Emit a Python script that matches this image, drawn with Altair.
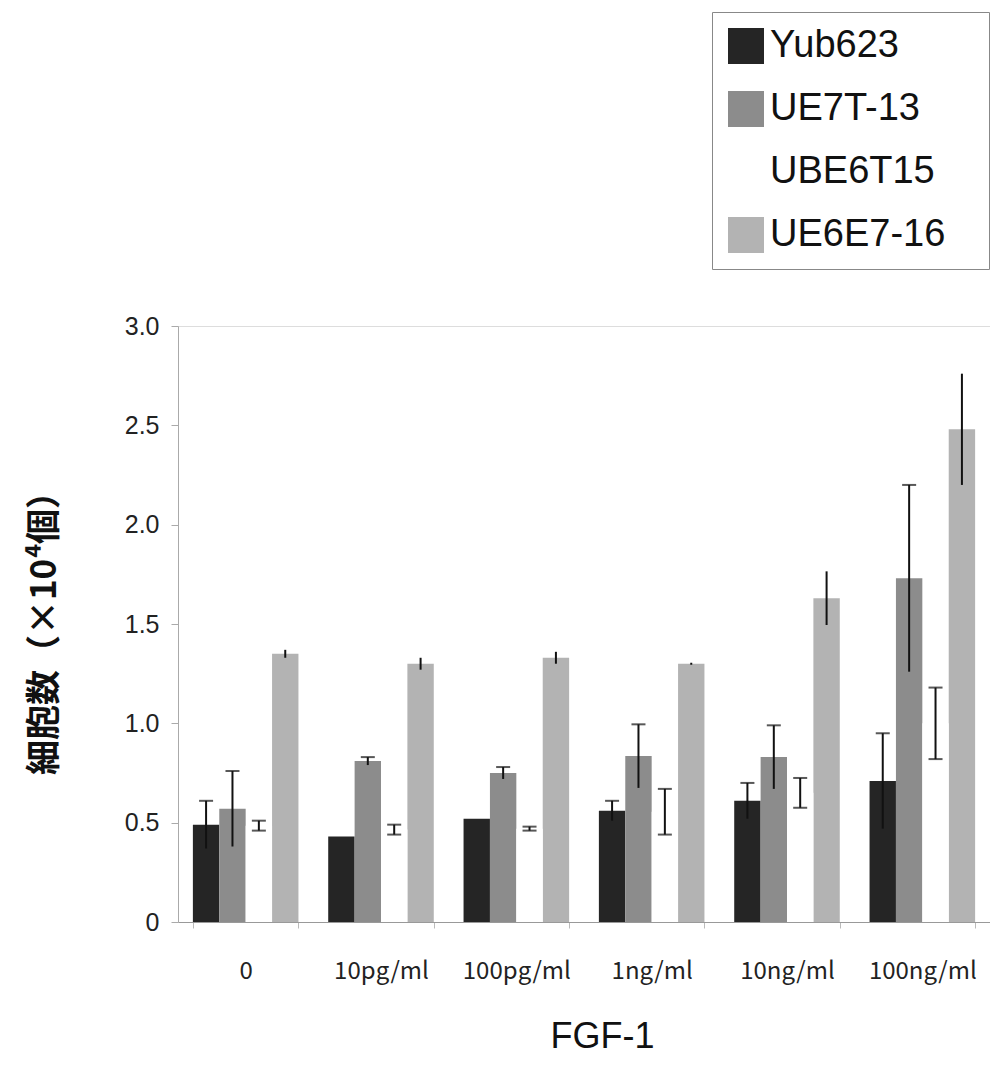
import altair as alt
import pandas as pd

categories = ["0", "10pg/ml", "100pg/ml", "1ng/ml", "10ng/ml", "100ng/ml"]
series = ["Yub623", "UE7T-13", "UBE6T15", "UE6E7-16"]
colors = ["#252525", "#8c8c8c", "#ffffff", "#b3b3b3"]

yub623 = [0.49, 0.43, 0.52, 0.56, 0.61, 0.71]
yub623_err = [0.12, 0.0, 0.0, 0.05, 0.09, 0.24]
ue7t13 = [0.57, 0.81, 0.75, 0.835, 0.83, 1.73]
ue7t13_err = [0.19, 0.02, 0.03, 0.16, 0.16, 0.47]
ube6t15 = [0.485, 0.465, 0.47, 0.555, 0.65, 1.0]
ube6t15_err = [0.025, 0.025, 0.01, 0.115, 0.075, 0.18]
ue6e716 = [1.35, 1.30, 1.33, 1.30, 1.63, 2.48]
ue6e716_err = [0.02, 0.03, 0.03, 0.005, 0.135, 0.28]

rows = []
for name, vals, errs in zip(series, [yub623, ue7t13, ube6t15, ue6e716],
                            [yub623_err, ue7t13_err, ube6t15_err, ue6e716_err]):
    for c, v, e in zip(categories, vals, errs):
        rows.append(dict(conc=c, line=name, value=v, err=e, lo=v - e, hi=v + e))
df = pd.DataFrame(rows)

YTITLE = "細胞数（×10⁴個）"

x = alt.X(
    "conc:N", sort=categories, title="FGF-1",
    scale=alt.Scale(paddingInner=0.22, paddingOuter=0.11),
    axis=alt.Axis(labelAngle=0, labelFont="Noto Sans CJK JP", labelFontSize=24,
                  labelColor="#222", labelPadding=31, tickBand="extent",
                  tickSize=6, tickColor="#bbb", domainColor="#999",
                  titleFont="Liberation Sans", titleFontSize=36,
                  titleFontWeight="normal", titleColor="#111", titlePadding=36,
                  titleX=424),
)
xo = alt.XOffset("line:N", sort=series,
                 scale=alt.Scale(domain=series, paddingInner=0, paddingOuter=0))
yscale = alt.Scale(domain=[0, 3], nice=False)
yaxis = alt.Axis(values=[0, 0.5, 1, 1.5, 2, 2.5, 3],
                 labelExpr="datum.value == 0 ? '0' : format(datum.value, '.1f')",
                 labelFont="Liberation Sans", labelFontSize=25, labelColor="#222",
                 labelPadding=12, tickSize=7, tickColor="#aaa", domainColor="#aaa",
                 grid=False, titleFont="Noto Sans CJK JP", titleFontSize=35,
                 titleFontWeight="bold", titleColor="#111", titlePadding=62)

color = alt.Color(
    "line:N", sort=series,
    scale=alt.Scale(domain=series, range=colors),
    legend=alt.Legend(orient="none", legendX=534, legendY=-314, title=None,
                      symbolType="square", symbolSize=1296, symbolStrokeWidth=0,
                      labelFontSize=38, labelFont="Liberation Sans", labelLimit=400,
                      labelColor="#111", strokeColor="#888", fillColor="white",
                      padding=15, rowPadding=25, labelOffset=5,
                      labelExpr="datum.label + '\u2800'"),
)

base = alt.Chart(df)

bars = base.transform_filter("datum.line != 'UBE6T15'").mark_bar().encode(
    x=x, xOffset=xo, y=alt.Y("value:Q", scale=yscale, axis=yaxis, title=YTITLE),
    color=color,
)
white = base.transform_filter("datum.line == 'UBE6T15'").mark_bar(xOffset=-6).encode(
    x=x, xOffset=xo, y=alt.Y("value:Q", scale=yscale, title=YTITLE),
    color=color,
)
rules = base.transform_filter("datum.err > 0").mark_rule(color="#111", strokeWidth=2).encode(
    x=x, xOffset=xo, y=alt.Y("lo:Q", scale=yscale, title=YTITLE), y2="hi:Q",
)
topcaps = base.transform_filter("datum.err > 0 && datum.line != 'UE6E7-16'").mark_tick(
    color="#111", thickness=2, size=14).encode(
    x=x, xOffset=xo, y=alt.Y("hi:Q", scale=yscale, title=YTITLE),
)
botcaps = base.transform_filter("datum.line == 'UBE6T15'").mark_tick(
    color="#111", thickness=2, size=14).encode(
    x=x, xOffset=xo, y=alt.Y("lo:Q", scale=yscale, title=YTITLE),
)

chart = alt.layer(bars, white, rules, topcaps, botcaps).properties(
    width=812, height=596,
    autosize=alt.AutoSizeParams(type="none"),
    padding={"left": 170, "top": 318, "right": 0, "bottom": 142},
).configure_view(stroke=None).configure(background="white")

chart.save("out.html", embed_options={"renderer": "svg", "actions": False})
